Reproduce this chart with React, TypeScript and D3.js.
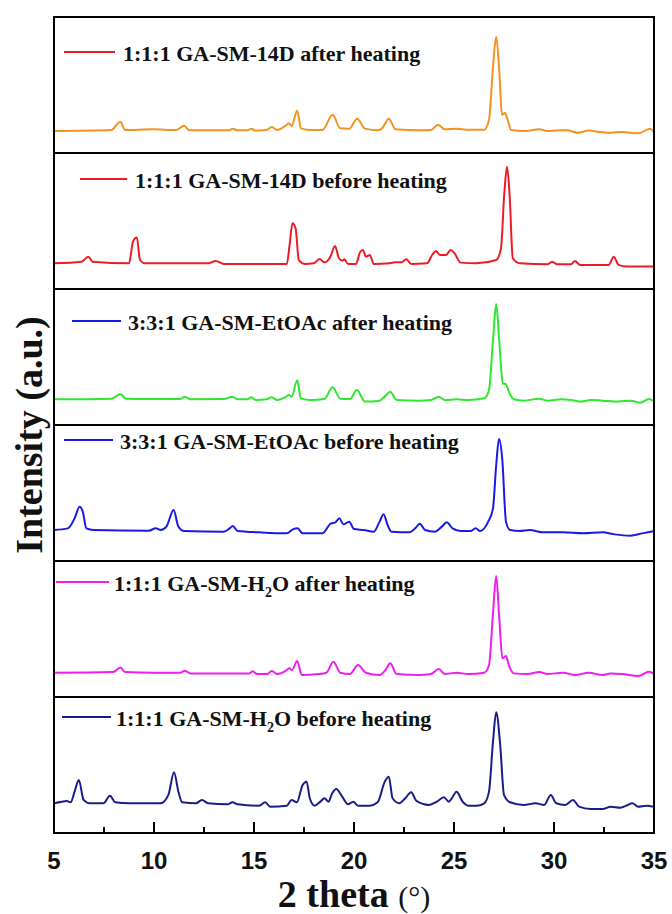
import React from "react";
import * as d3 from "d3";

// Powder XRD patterns: [2θ (°), relative intensity (% of strongest reflection)]
const gaSm14dAfter: [number, number][] = [
  [5.0, 0], [7.86, 1.1], [8.32, 9.9], [8.55, 1.1], [9.93, 1.8], [11.12, 1.1], [11.51, 5.7], [11.75, 0.7],
  [13.78, 0.7], [13.92, 2.5], [14.18, 0.7], [14.67, 0.7], [14.87, 2.5], [15.07, 0.4], [15.62, 1.1], [15.89, 4.2],
  [16.15, 1.1], [16.6, 6.0], [16.74, 8.1], [16.88, 5.3], [17.16, 21.6], [17.35, 2.8], [17.83, 1.1], [18.42, 1.1],
  [18.93, 17.3], [19.31, 2.8], [19.76, 2.5], [20.16, 13.1], [20.55, 2.5], [21.18, 0.7], [21.42, 3.2], [21.74, 13.1],
  [22.07, 1.8], [23.25, 0.7], [23.85, 1.1], [24.2, 6.7], [24.54, 1.8], [25.13, 2.5], [25.72, 1.4], [26.51, 1.4],
  [26.75, 11.7], [26.95, 68], [27.11, 100], [27.26, 64.7], [27.4, 17], [27.54, 19.4], [27.66, 13.4], [27.86, 1.1],
  [28.49, 0], [29.27, 1.8], [29.63, 0], [30.26, 0.7], [30.66, 0.7], [31.15, -1.8], [31.74, 0.4], [32.33, -1.1],
  [32.83, -1.8], [33.42, -1.1], [34.21, -2.5], [34.8, 2.5], [35.0, -1.1],
];

const gaSm14dBefore: [number, number][] = [
  [5.0, 0], [6.38, 1.7], [6.72, 6.9], [6.93, 1.7], [8.75, 0], [8.95, 22.4], [9.14, 26.6], [9.3, 3.4], [9.54, 0],
  [12.7, 0], [13.09, 2.4], [13.49, -0.7], [16.64, -0.7], [16.78, 19], [16.92, 41.4], [17.08, 36.2], [17.24, 3.4],
  [17.53, -0.7], [17.99, 0], [18.28, 4.5], [18.52, 1.0], [18.82, 6.9], [19.05, 17.9], [19.25, 5.2], [19.41, 2.8],
  [19.52, 4.1], [19.7, -0.7], [20.1, -0.7], [20.3, 11.4], [20.45, 13.8], [20.59, 6.9], [20.79, 8.6], [20.99, -0.7],
  [21.78, 0], [22.07, 1.0], [22.37, 1.0], [22.62, 4.1], [22.86, -0.7], [23.65, 0], [23.91, 8.6], [24.1, 12.8],
  [24.3, 8.6], [24.6, 8.6], [24.83, 13.8], [25.03, 10.3], [25.33, 0.7], [26.12, 0], [27.11, 3.4], [27.35, 15.5],
  [27.51, 70.7], [27.65, 100], [27.78, 70.7], [27.94, 5.2], [28.29, 0], [29.67, -1], [29.91, 1.7], [30.16, -1],
  [30.85, -1], [31.05, 2.4], [31.29, -1.7], [32.73, -1.7], [32.99, 6.9], [33.23, -1.7], [33.62, -3.4], [35.0, -3.4],
];

const gaSmEtOAcAfter: [number, number][] = [
  [5.0, 0], [7.86, 0.7], [8.32, 5.2], [8.59, 0.7], [9.83, 0.3], [11.32, 0.3], [11.55, 2.8], [11.81, 0],
  [13.49, 0.3], [13.92, 2.8], [14.18, 0], [14.67, 0], [14.87, 2.1], [15.1, -0.7], [15.62, 0], [15.89, 2.1],
  [16.15, -0.7], [16.6, 2.8], [16.74, 4.5], [16.88, 2.8], [17.16, 19.6], [17.35, 1.0], [17.83, -0.7], [18.52, 0.3],
  [18.93, 12.6], [19.31, 0.7], [19.8, 0.3], [20.14, 9.8], [20.55, -2.4], [21.28, -1.4], [21.54, 2.8], [21.81, 8.0],
  [22.13, -0.7], [23.25, -1.4], [23.85, -0.7], [24.24, 2.8], [24.54, -0.7], [25.13, 0], [25.72, -0.7], [26.51, 1.0],
  [26.75, 9.8], [26.95, 62], [27.11, 100], [27.26, 62], [27.44, 16.8], [27.6, 15.7], [27.74, 8.0], [27.99, 0],
  [28.49, -1.4], [29.27, 0.7], [29.67, -1.4], [30.36, 0], [30.85, -0.7], [31.35, -2.4], [31.84, -0.7], [32.43, -1.4],
  [33.23, -2.4], [33.82, -1.4], [34.31, -3.5], [34.75, 0.3], [35.0, -2.4],
];

const gaSmEtOAcBefore: [number, number][] = [
  [5.0, 0], [5.69, 1.8], [6.03, 12.8], [6.28, 25.6], [6.44, 20.1], [6.62, 1.8], [6.97, 0], [9.74, -0.7],
  [10.09, 1.8], [10.33, 0], [10.62, 3.7], [10.98, 22], [11.22, 3.7], [11.51, -1.1], [13.49, -1.8], [13.78, 1.8],
  [13.94, 4.4], [14.18, -1.1], [15.26, -2.6], [16.64, -3.7], [16.94, 0.7], [17.18, 1.8], [17.43, -3.7], [18.42, -3.7],
  [18.85, 7.3], [19.05, 8.1], [19.27, 12.8], [19.47, 6.2], [19.76, 9.2], [20.0, 1.1], [20.49, 0], [20.99, -1.8],
  [21.28, 9.2], [21.48, 17.2], [21.68, 5.5], [21.87, -1.8], [22.76, -2.6], [23.06, 1.8], [23.29, 7.0], [23.55, 0],
  [24.04, -1.8], [24.44, 4.8], [24.64, 8.4], [24.93, 1.8], [25.33, -1.1], [25.82, -1.1], [26.08, 1.8], [26.31, -1.1],
  [26.71, 9.2], [26.95, 23.8], [27.11, 71.4], [27.25, 100], [27.41, 78.8], [27.6, 9.2], [27.8, 0], [28.29, -1.1],
  [28.78, 0], [29.47, -2.6], [30.46, -2.6], [31.45, -3.7], [32.43, -2.6], [33.03, -4.8], [33.82, -6.2], [34.41, -3.7],
  [35.0, -1.1],
];

const gaSmH2oAfter: [number, number][] = [
  [5.0, 0], [7.96, 0.7], [8.32, 5.5], [8.55, 0.7], [9.93, 0], [11.32, 0], [11.55, 2.1], [11.81, -0.7],
  [14.77, -0.7], [14.93, 1.4], [15.16, -1.4], [15.66, -1.4], [15.89, 1.7], [16.15, -1.4], [16.6, 2.1], [16.76, 4.5],
  [16.9, 2.8], [17.16, 12.1], [17.39, -2.4], [18.22, -1.4], [18.62, 0], [18.97, 11.4], [19.31, 0], [19.8, -1.4],
  [20.2, 7.9], [20.59, 0], [21.28, -2.4], [21.58, 2.8], [21.81, 9.7], [22.13, -1.4], [23.25, -2.4], [23.85, -1.4],
  [24.24, 3.8], [24.54, -1.4], [25.13, 0], [25.72, -1.4], [26.51, 0], [26.75, 7.9], [26.95, 61.4], [27.11, 100],
  [27.26, 57.9], [27.42, 14.8], [27.6, 17.2], [27.74, 7.9], [27.99, -0.7], [28.68, -1.4], [29.27, 0.7], [29.67, -1.4],
  [30.46, 0], [31.05, -2.4], [31.74, 0], [32.43, -2.4], [32.83, -0.7], [33.42, -1.4], [34.21, -3.4], [34.75, 1.0],
  [35.0, -1.4],
];

const gaSmH2oBefore: [number, number][] = [
  [5.0, 0], [5.39, 1.8], [5.63, 2.6], [5.83, 1.1], [6.03, 12.8], [6.24, 25.6], [6.48, 3.7], [6.78, 0], [7.47, 0],
  [7.8, 8.4], [8.06, 1.1], [8.75, 0], [10.33, 0], [10.72, 9.2], [11.0, 34.1], [11.22, 12.8], [11.41, 1.1], [12.1, 0],
  [12.4, 3.7], [12.7, 0], [13.68, -1.1], [13.92, 1.1], [14.18, -1.1], [15.26, -2.6], [15.56, 1.1], [15.81, -3.7],
  [16.64, -2.6], [16.88, 3.7], [17.14, 1.1], [17.43, 20.1], [17.63, 23.8], [17.79, 5.5], [18.03, -2.6], [18.32, 1.8],
  [18.52, 5.5], [18.72, 1.8], [18.91, 11], [19.11, 15.8], [19.41, 7.3], [19.7, -1.1], [19.96, 1.8], [20.2, -2.6],
  [20.79, -2.6], [21.18, 1.1], [21.54, 23.8], [21.74, 29.3], [21.93, 5.5], [22.27, 0], [22.56, 5.5], [22.86, 12.1],
  [23.12, 2.6], [23.75, -1.8], [24.14, 1.8], [24.5, 6.6], [24.74, 1.8], [24.89, 5.5], [25.13, 12.8], [25.43, 1.8],
  [25.72, -2.6], [26.12, -2.6], [26.51, 0], [26.75, 12.8], [26.95, 67.8], [27.11, 100], [27.31, 64.1], [27.5, 9.2],
  [27.8, 1.1], [28.49, -1.8], [29.08, 0], [29.51, -1.8], [29.84, 9.2], [30.11, 0], [30.56, -1.8], [30.95, 3.7],
  [31.25, -3.7], [31.84, -6.2], [32.43, -6.2], [32.83, -3.7], [33.33, -4.8], [33.62, -2.6], [33.92, 0], [34.21, -3.7],
  [34.61, -2.6], [35.0, -3.7],
];

// Stacked panels, top to bottom
const SERIES = [gaSm14dAfter, gaSm14dBefore, gaSmEtOAcAfter, gaSmEtOAcBefore, gaSmH2oAfter, gaSmH2oBefore];
const SERIES_LABELS = [
  "1:1:1 GA-SM-14D after heating",
  "1:1:1 GA-SM-14D before heating",
  "3:3:1 GA-SM-EtOAc after heating",
  "3:3:1 GA-SM-EtOAc before heating",
  "1:1:1 GA-SM-H_2O after heating",
  "1:1:1 GA-SM-H_2O before heating",
];
const TRACE_COLORS = ["#f5921e", "#ec1c24", "#2ee82e", "#1a1ae6", "#f01cf0", "#1c1c86"];
const KEY_COLORS = ["#ec1c24", "#ec1c24", "#1a1ae6", "#1a1ae6", "#f01cf0", "#1c1c86"];

const X_DOMAIN: [number, number] = [5, 35];
const MAJOR_TICKS = [5, 10, 15, 20, 25, 30, 35];
const MINOR_TICKS = [7.5, 12.5, 17.5, 22.5, 27.5, 32.5];

// Layout
const W = 672;
const H = 914;
const FRAME = { left: 54, right: 654, top: 17, bottom: 833 };
const PANEL_H = (FRAME.bottom - FRAME.top) / SERIES.length;
// baseline / full-scale offsets inside each panel
const TRACE_RANGE: [number, number][] = [
  [114, 19.7], [110.3, 13.7], [110.3, 15], [105, 14], [111.7, 15], [106.3, 15.3],
];
// legend key: line start, line end, text start, vertical offset
const KEY_POS = [
  { x1: 64, x2: 115, tx: 123, dy: 35 },
  { x1: 80, x2: 127, tx: 135, dy: 26 },
  { x1: 72, x2: 121, tx: 128, dy: 32 },
  { x1: 64, x2: 113, tx: 120, dy: 15 },
  { x1: 56, x2: 109, tx: 114, dy: 21 },
  { x1: 62, x2: 111, tx: 116, dy: 20 },
];

const SERIF = "'Liberation Serif', 'Times New Roman', Times, serif";
const SANS = "'Liberation Sans', Arial, Helvetica, sans-serif";

function LabelText({ label, x, y }: { label: string; x: number; y: number }) {
  const parts = label.split(/_(\d)/);
  return (
    <text x={x} y={y} fontFamily={SERIF} fontWeight="bold" fontSize={22} fill="#111">
      {parts.map((p, i) =>
        i % 2 === 1 ? (
          <tspan key={i} fontSize={14} dy={6}>{p}</tspan>
        ) : (
          <tspan key={i} dy={i === 0 ? 0 : -6}>{p}</tspan>
        )
      )}
    </text>
  );
}

export default function App() {
  const x = d3.scaleLinear().domain(X_DOMAIN).range([FRAME.left, FRAME.right]);

  return (
    <svg
      width={W}
      height={H}
      viewBox={`0 0 ${W} ${H}`}
      style={{ position: "absolute", left: 0, top: 0, background: "#fff" }}
    >
      <defs>
        {SERIES.map((_, i) => (
          <clipPath id={`panel-clip-${i}`} key={i}>
            <rect x={FRAME.left} y={FRAME.top + i * PANEL_H} width={FRAME.right - FRAME.left} height={PANEL_H} />
          </clipPath>
        ))}
      </defs>

      {SERIES.map((data, i) => {
        const top = FRAME.top + i * PANEL_H;
        const y = d3
          .scaleLinear()
          .domain([0, 100])
          .range([top + TRACE_RANGE[i][0], top + TRACE_RANGE[i][1]]);
        const line = d3
          .line<[number, number]>()
          .x((d) => x(d[0]))
          .y((d) => y(d[1]))
          .curve(d3.curveMonotoneX);
        const k = KEY_POS[i];
        const ky = top + k.dy;
        return (
          <g key={i}>
            <path
              d={line(data) ?? ""}
              fill="none"
              stroke={TRACE_COLORS[i]}
              strokeWidth={2}
              strokeLinejoin="round"
              clipPath={`url(#panel-clip-${i})`}
            />
            <line x1={k.x1} x2={k.x2} y1={ky} y2={ky} stroke={KEY_COLORS[i]} strokeWidth={2} />
            <LabelText label={SERIES_LABELS[i]} x={k.tx} y={ky + 9} />
            <rect
              x={FRAME.left}
              y={top}
              width={FRAME.right - FRAME.left}
              height={PANEL_H}
              fill="none"
              stroke="#000"
              strokeWidth={2}
            />
          </g>
        );
      })}

      {/* bottom axis: inward ticks */}
      <g>
        {MAJOR_TICKS.map((t) => (
          <line key={`M${t}`} x1={x(t)} x2={x(t)} y1={FRAME.bottom} y2={FRAME.bottom - 11} stroke="#000" strokeWidth={2} />
        ))}
        {MINOR_TICKS.map((t) => (
          <line key={`m${t}`} x1={x(t)} x2={x(t)} y1={FRAME.bottom} y2={FRAME.bottom - 6} stroke="#000" strokeWidth={2} />
        ))}
        {MAJOR_TICKS.map((t) => (
          <text
            key={`L${t}`}
            x={x(t)}
            y={FRAME.bottom + 36}
            textAnchor="middle"
            fontFamily={SANS}
            fontWeight="bold"
            fontSize={24}
            fill="#111"
          >
            {t}
          </text>
        ))}
      </g>

      <text x={x(20)} y={907} textAnchor="middle" fontFamily={SERIF} fill="#111">
        <tspan fontWeight="bold" fontSize={38}>2 theta </tspan>
        <tspan fontSize={30}>(°)</tspan>
      </text>

      <text
        transform={`translate(42, 435) rotate(-90)`}
        textAnchor="middle"
        fontFamily={SERIF}
        fontWeight="bold"
        fontSize={38}
        fill="#111"
      >
        Intensity (a.u.)
      </text>
    </svg>
  );
}
